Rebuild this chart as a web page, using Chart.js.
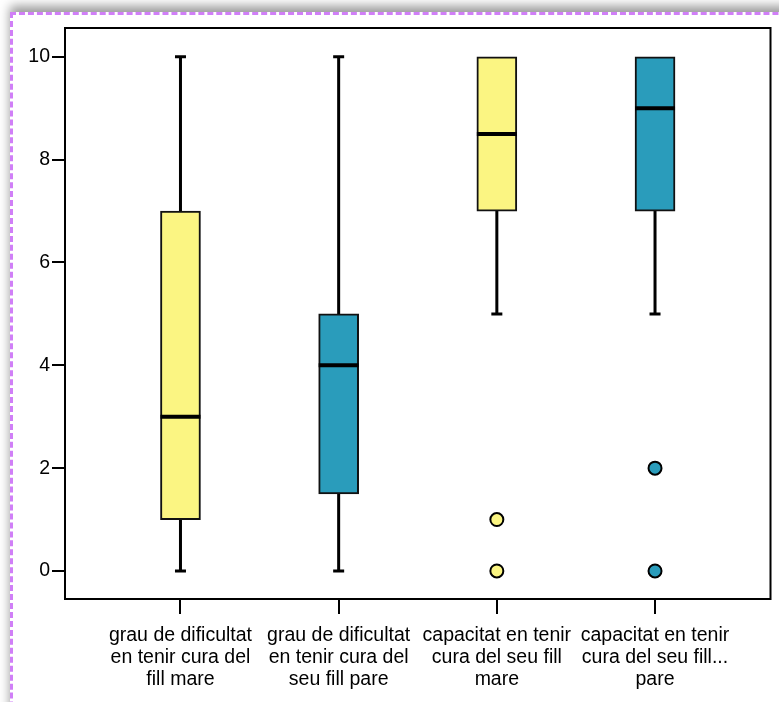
<!DOCTYPE html>
<html>
<head>
<meta charset="utf-8">
<script src="https://cdn.jsdelivr.net/npm/chart.js@4.4.1/dist/chart.umd.min.js"></script>
<style>
  html, body { margin: 0; padding: 0; background: #fff; overflow: hidden; }
  #frame {
    position: absolute; left: 10px; top: 12px; width: 900px; height: 800px;
    border-left: 3px dashed #d07ff7; border-top: 3px dashed #d07ff7;
    box-shadow: 0 -6px 10px rgba(0,0,0,0.40);
    background: #fff;
  }
  #wrap { position: absolute; left: 0; top: 0; width: 779px; height: 702px; }
</style>
</head>
<body>
<div id="frame"></div>
<div id="wrap"><canvas id="boxChart"></canvas></div>
<script>
// categories (x index 0..3)
var categories = [
    ['grau de dificultat', 'en tenir cura del', 'fill mare'],
    ['grau de dificultat', 'en tenir cura del', 'seu fill pare'],
    ['capacitat en tenir', 'cura del seu fill', 'mare'],
    ['capacitat en tenir', 'cura del seu fill...', 'pare']
];
// five-number summaries
var whiskerLow  = [0, 0, 5, 5];
var quartile1   = [1, 1.5, 7, 7];
var medians     = [3, 4, 8.5, 9];
var quartile3   = [7, 5, 10, 10];
var whiskerHigh = [10, 10, 10, 10];
// outliers: [category index, value]
var outlierCat  = [2, 2, 3, 3];
var outlierVal  = [1, 0, 2, 0];
var yTicks = [0, 2, 4, 6, 8, 10];

var yellow = '#fbf582';
var teal = '#2a9cbb';
var boxColors = [yellow, teal, yellow, teal];

var font = { family: "'Liberation Sans', Arial, sans-serif", size: 19.5, lineHeight: 1.13 };

var boxData = categories.map(function (c, i) {
    return { x: i, y: [quartile1[i], quartile3[i]] };
});
var outlierData = outlierCat.map(function (c, i) {
    return { x: c, y: outlierVal[i] };
});

var boxPlugin = {
    id: 'boxExtras',
    beforeDatasetsDraw: function (chart) {
        var ctx = chart.ctx, xs = chart.scales.x, ys = chart.scales.y;
        ctx.save();
        ctx.strokeStyle = '#000';
        ctx.lineWidth = 3;
        for (var i = 0; i < categories.length; i++) {
            var px = xs.getPixelForValue(i);
            var lo = ys.getPixelForValue(whiskerLow[i]);
            var hi = ys.getPixelForValue(whiskerHigh[i]);
            var q1 = ys.getPixelForValue(quartile1[i]);
            var q3 = ys.getPixelForValue(quartile3[i]);
            ctx.beginPath();
            if (whiskerHigh[i] > quartile3[i]) {
                ctx.moveTo(px, hi); ctx.lineTo(px, q3);
                ctx.moveTo(px - 5.5, hi); ctx.lineTo(px + 5.5, hi);
            }
            if (whiskerLow[i] < quartile1[i]) {
                ctx.moveTo(px, q1); ctx.lineTo(px, lo);
                ctx.moveTo(px - 5.5, lo); ctx.lineTo(px + 5.5, lo);
            }
            ctx.stroke();
        }
        ctx.restore();
    },
    afterDatasetsDraw: function (chart) {
        var ctx = chart.ctx, xs = chart.scales.x, ys = chart.scales.y, a = chart.chartArea;
        ctx.save();
        ctx.strokeStyle = '#000';
        ctx.lineWidth = 4;
        for (var i = 0; i < categories.length; i++) {
            var px = xs.getPixelForValue(i);
            var m = ys.getPixelForValue(medians[i]);
            ctx.beginPath();
            ctx.moveTo(px - 20, m); ctx.lineTo(px + 20, m);
            ctx.stroke();
        }
        ctx.lineWidth = 2;
        ctx.strokeRect(a.left, a.top, a.right - a.left, a.bottom - a.top);
        ctx.restore();
    }
};

new Chart(document.getElementById('boxChart').getContext('2d'), {
    type: 'bar',
    data: {
        datasets: [{
            type: 'bar',
            data: boxData,
            backgroundColor: boxColors,
            borderColor: '#111',
            borderWidth: 2,
            borderSkipped: false,
            barThickness: 40,
            order: 2
        }, {
            type: 'scatter',
            data: outlierData,
            pointRadius: 6.5,
            pointBorderWidth: 2,
            pointBorderColor: '#000',
            pointBackgroundColor: outlierCat.map(function (c) { return boxColors[c]; }),
            order: 1
        }]
    },
    options: {
        responsive: true,
        maintainAspectRatio: false,
        animation: false,
        layout: { padding: { top: 28, right: 5, left: 0, bottom: 0 } },
        plugins: { legend: { display: false }, tooltip: { enabled: false } },
        scales: {
            x: {
                type: 'linear',
                offset: false,
                min: -0.73,
                max: 3.73,
                afterBuildTicks: function (s) { s.ticks = categories.map(function (c, i) { return { value: i }; }); },
                afterFit: function (s) { s.height = 103; },
                border: { display: false },
                grid: { offset: false, drawOnChartArea: false, color: '#000', tickLength: 15, lineWidth: 2 },
                ticks: {
                    color: '#000',
                    font: font,
                    padding: 11,
                    maxRotation: 0,
                    autoSkip: false,
                    callback: function (v) { return categories[v]; }
                }
            },
            y: {
                min: -0.545,
                max: 10.56,
                afterBuildTicks: function (s) { s.ticks = yTicks.map(function (v) { return { value: v }; }); },
                afterFit: function (s) { s.width = 65; },
                border: { display: false },
                grid: { drawOnChartArea: false, color: '#000', tickLength: 13, lineWidth: 2 },
                ticks: { color: '#000', font: font, padding: 2 }
            }
        }
    },
    plugins: [boxPlugin]
});
</script>
</body>
</html>
